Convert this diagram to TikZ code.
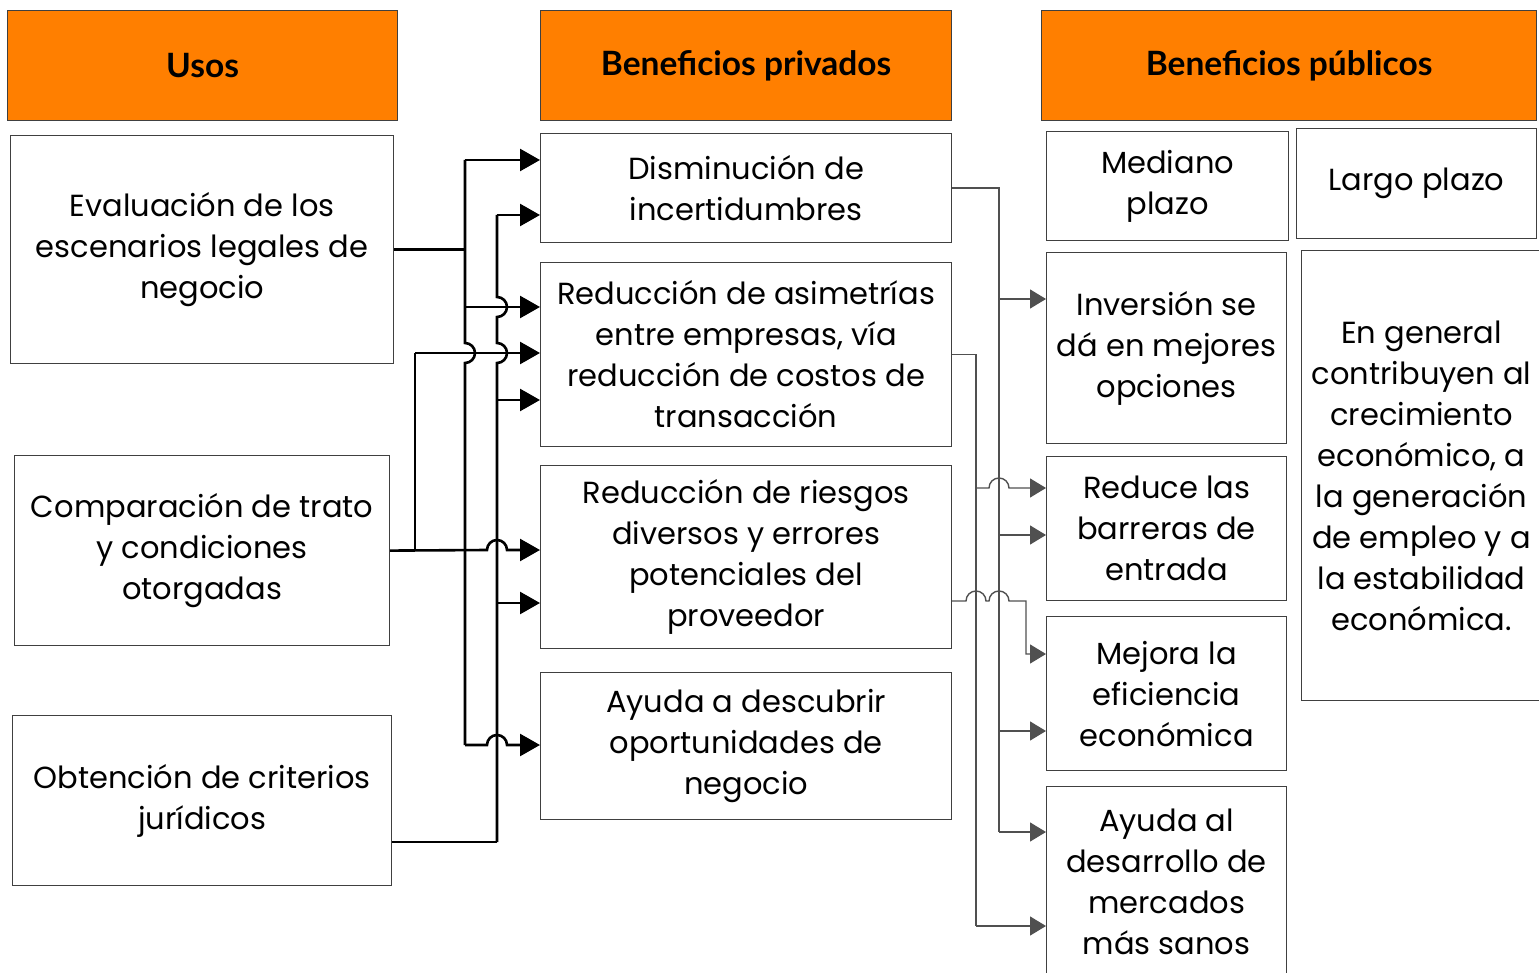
\documentclass[tikz,border=0pt]{standalone}
\usepackage{fontspec}
\setmainfont{Poppins}
\newfontfamily\hdfont{Lato}
\usetikzlibrary{arrows.meta}
\definecolor{orng}{HTML}{FF7F00}
\definecolor{edgec}{HTML}{404040}
\definecolor{thinc}{HTML}{505050}
\begin{document}
\begin{tikzpicture}[x=1pt,y=-1pt,
  box/.style={draw=edgec, line width=1.2pt, inner sep=0pt, align=center,
    font=\fontsize{30.5}{41}\selectfont, anchor=north west},
  head/.style={box, fill=orng, font=\hdfont\bfseries\fontsize{33.5}{38}\selectfont},
  tline/.style={line width=2.6pt, black},
  tarr/.style={tline, -{Triangle[length=20pt,width=22pt]}},
  nline/.style={line width=1.4pt, thinc},
  narr/.style={nline, -{Triangle[length=16pt,width=19pt]}, shorten >=0pt},
]
\useasboundingbox (0,0) rectangle (1539,973);

% headers
\node[head, minimum width=390pt, minimum height=110pt] (hU) at (7,10) {Usos};
\node[head, minimum width=411pt, minimum height=110pt] (hP) at (540,10) {Beneficios privados};
\node[head, minimum width=495pt, minimum height=110pt] (hB) at (1041,10) {Beneficios públicos};

% left column
\node[box, minimum width=383pt, minimum height=228pt] (eval) at (10,135) {Evaluación de los\\escenarios legales de\\negocio};
\node[box, minimum width=375pt, minimum height=190pt] (comp) at (14,455) {Comparación de trato\\y condiciones\\otorgadas};
\node[box, minimum width=379pt, minimum height=170pt] (obt) at (12,715) {Obtención de criterios\\jurídicos};

% middle column
\node[box, minimum width=411pt, minimum height=109pt] (dis) at (540,133) {Disminución de\\incertidumbres};
\node[box, minimum width=411pt, minimum height=184pt] (asim) at (540,262) {Reducción de asimetrías\\entre empresas, vía\\reducción de costos de\\transacción};
\node[box, minimum width=411pt, minimum height=183pt] (ries) at (540,465) {Reducción de riesgos\\diversos y errores\\potenciales del\\proveedor};
\node[box, minimum width=411pt, minimum height=147pt] (desc) at (540,672) {Ayuda a descubrir\\oportunidades de\\negocio};

% right columns
\node[box, minimum width=242pt, minimum height=109pt] (med) at (1046,131) {Mediano\\plazo};
\node[box, minimum width=240pt, minimum height=110pt] (lar) at (1296,128) {Largo plazo};
\node[box, minimum width=240pt, minimum height=191pt] (inv) at (1046,252) {Inversión se\\dá en mejores\\opciones};
\node[box, minimum width=240pt, minimum height=144pt] (red) at (1046,456) {Reduce las\\barreras de\\entrada};
\node[box, minimum width=240pt, minimum height=154pt] (mej) at (1046,616) {Mejora la\\eficiencia\\económica};
\node[box, minimum width=240pt, minimum height=190pt] (ayd) at (1046,786) {Ayuda al\\desarrollo de\\mercados\\más sanos};
\node[box, minimum width=240pt, minimum height=450pt] (gen) at (1301,250) {En general\\contribuyen al\\crecimiento\\económico, a\\la generación\\de empleo y a\\la estabilidad\\económica.};

% bus positions
\coordinate (bA) at (465,0);
\coordinate (bB) at (497,0);
\coordinate (bC) at (415,0);
\coordinate (bD) at (999,0);
\coordinate (bE) at (976,0);
\coordinate (bF) at (1026,0);

% arrow targets, left side
\coordinate (t1) at (dis.west |- 0,160);
\coordinate (t2) at (dis.west |- 0,215);
\coordinate (t3) at (asim.west |- 0,307);
\coordinate (t4) at (asim.west |- 0,353);
\coordinate (t5) at (asim.west |- 0,400);
\coordinate (t6) at (ries.west |- 0,550);
\coordinate (t7) at (ries.west |- 0,603);
\coordinate (t8) at (desc.west |- 0,745);
\coordinate (obtE) at (obt.east |- 0,842);

% bus A (from Evaluación)
\draw[tline] (eval.east) -- (bA |- eval.east);
\draw[tline] (bA |- t1) -- (465,343) arc[start angle=90,end angle=-90,radius=10pt] -- (bA |- t8);
\draw[tarr] (bA |- t1) -- (t1);
\draw[tarr] (bA |- t3) -- (t3);
\draw[tarr] (bA |- t8) -- (487,745) arc[start angle=180,end angle=0,radius=10pt] -- (t8);

% bus B (from Obtención)
\draw[tline] (obtE) -- (bB |- obtE);
\draw[tline] (bB |- t2) -- (497,297) arc[start angle=90,end angle=-90,radius=10pt]
  -- (497,343) arc[start angle=90,end angle=-90,radius=10pt] -- (bB |- obtE);
\draw[tarr] (bB |- t2) -- (t2);
\draw[tarr] (bB |- t5) -- (t5);
\draw[tarr] (bB |- t7) -- (t7);

% Comparación
\draw[tarr] (comp.east) -- (487,550) arc[start angle=180,end angle=0,radius=10pt] -- (t6);
\draw[tline] (bC |- comp.east) -- (bC |- t4);
\draw[tarr] (bC |- t4) -- (t4);

% arrow targets, right side
\coordinate (r1) at (inv.west |- 0,299);
\coordinate (r2) at (red.west |- 0,488);
\coordinate (r3) at (red.west |- 0,535);
\coordinate (r4) at (mej.west |- 0,654);
\coordinate (r5) at (mej.west |- 0,731);
\coordinate (r6) at (ayd.west |- 0,832);
\coordinate (r7) at (ayd.west |- 0,926);
\coordinate (riesE) at (ries.east |- 0,601);

% bus D (from Disminución)
\draw[nline] (dis.east) -- (bD |- dis.east) -- (bD |- r6);
\draw[narr] (bD |- r1) -- (r1);
\draw[narr] (bD |- r3) -- (r3);
\draw[narr] (bD |- r5) -- (r5);
\draw[narr] (bD |- r6) -- (r6);

% bus E (from Reducción de asimetrías)
\draw[nline] (asim.east) -- (bE |- asim.east) -- (bE |- r7);
\draw[narr] (bE |- r2) -- (989,488) arc[start angle=180,end angle=0,radius=10pt] -- (r2);
\draw[narr] (bE |- r7) -- (r7);

% from Reducción de riesgos
\draw[narr] (riesE) -- (966,601) arc[start angle=180,end angle=0,radius=10pt]
  -- (989,601) arc[start angle=180,end angle=0,radius=10pt] -- (bF |- riesE) -- (bF |- r4) -- (r4);
\end{tikzpicture}
\end{document}
